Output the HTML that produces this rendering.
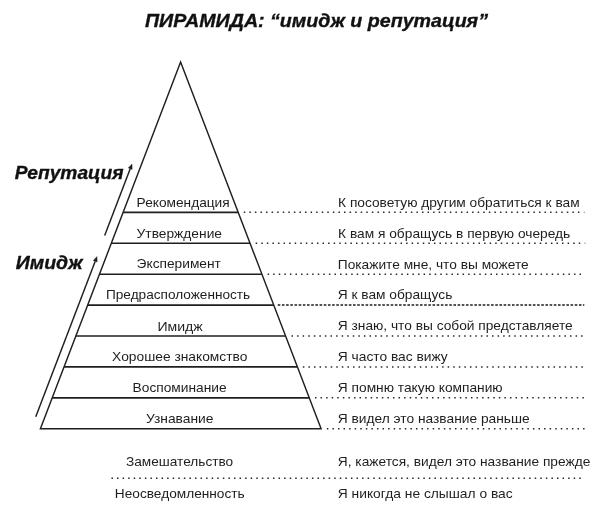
<!DOCTYPE html>
<html><head><meta charset="utf-8"><style>
html,body{margin:0;padding:0;background:#fff;width:600px;height:514px;overflow:hidden}
svg{display:block;filter:grayscale(100%)}
</style></head><body>
<svg width="600" height="514" viewBox="0 0 600 514">
<path d="M40.40,428.75 L180.6,62.0 L321.10,428.75 Z" fill="none" stroke="#221e1e" stroke-width="1.45" stroke-linejoin="miter"/>
<line x1="123.12" y1="212.35" x2="238.20" y2="212.35" stroke="#221e1e" stroke-width="1.6"/>
<line x1="111.31" y1="243.26" x2="250.04" y2="243.26" stroke="#221e1e" stroke-width="1.6"/>
<line x1="99.49" y1="274.18" x2="261.88" y2="274.18" stroke="#221e1e" stroke-width="1.6"/>
<line x1="87.67" y1="305.09" x2="273.73" y2="305.09" stroke="#221e1e" stroke-width="1.6"/>
<line x1="75.85" y1="336.01" x2="285.57" y2="336.01" stroke="#221e1e" stroke-width="1.6"/>
<line x1="64.04" y1="366.92" x2="297.41" y2="366.92" stroke="#221e1e" stroke-width="1.6"/>
<line x1="52.22" y1="397.84" x2="309.26" y2="397.84" stroke="#221e1e" stroke-width="1.6"/>
<path d="M577.95,212.35h1.5M572.38,212.35h1.5M566.81,212.35h1.5M561.24,212.35h1.5M555.67,212.35h1.5M550.10,212.35h1.5M544.53,212.35h1.5M538.96,212.35h1.5M533.39,212.35h1.5M527.82,212.35h1.5M522.25,212.35h1.5M516.68,212.35h1.5M511.11,212.35h1.5M505.54,212.35h1.5M499.97,212.35h1.5M494.40,212.35h1.5M488.83,212.35h1.5M483.26,212.35h1.5M477.69,212.35h1.5M472.12,212.35h1.5M466.55,212.35h1.5M460.98,212.35h1.5M455.41,212.35h1.5M449.84,212.35h1.5M444.27,212.35h1.5M438.70,212.35h1.5M433.13,212.35h1.5M427.56,212.35h1.5M421.99,212.35h1.5M416.42,212.35h1.5M410.85,212.35h1.5M405.28,212.35h1.5M399.71,212.35h1.5M394.14,212.35h1.5M388.57,212.35h1.5M383.00,212.35h1.5M377.43,212.35h1.5M371.86,212.35h1.5M366.29,212.35h1.5M360.72,212.35h1.5M355.15,212.35h1.5M349.58,212.35h1.5M344.01,212.35h1.5M338.44,212.35h1.5M332.87,212.35h1.5M327.30,212.35h1.5M321.73,212.35h1.5M316.16,212.35h1.5M310.59,212.35h1.5M305.02,212.35h1.5M299.45,212.35h1.5M293.88,212.35h1.5M288.31,212.35h1.5M282.74,212.35h1.5M277.17,212.35h1.5M271.60,212.35h1.5M266.03,212.35h1.5M260.46,212.35h1.5M254.89,212.35h1.5M249.32,212.35h1.5M243.75,212.35h1.5" stroke="#2a2a2a" stroke-width="1.5" fill="none"/>
<path d="M583.55,212.35h1.5" stroke="#2a2a2a" stroke-width="1.5" opacity="0.35" fill="none"/>
<path d="M578.75,243.26h1.5M573.18,243.26h1.5M567.61,243.26h1.5M562.04,243.26h1.5M556.47,243.26h1.5M550.90,243.26h1.5M545.33,243.26h1.5M539.76,243.26h1.5M534.19,243.26h1.5M528.62,243.26h1.5M523.05,243.26h1.5M517.48,243.26h1.5M511.91,243.26h1.5M506.34,243.26h1.5M500.77,243.26h1.5M495.20,243.26h1.5M489.63,243.26h1.5M484.06,243.26h1.5M478.49,243.26h1.5M472.92,243.26h1.5M467.35,243.26h1.5M461.78,243.26h1.5M456.21,243.26h1.5M450.64,243.26h1.5M445.07,243.26h1.5M439.50,243.26h1.5M433.93,243.26h1.5M428.36,243.26h1.5M422.79,243.26h1.5M417.22,243.26h1.5M411.65,243.26h1.5M406.08,243.26h1.5M400.51,243.26h1.5M394.94,243.26h1.5M389.37,243.26h1.5M383.80,243.26h1.5M378.23,243.26h1.5M372.66,243.26h1.5M367.09,243.26h1.5M361.52,243.26h1.5M355.95,243.26h1.5M350.38,243.26h1.5M344.81,243.26h1.5M339.24,243.26h1.5M333.67,243.26h1.5M328.10,243.26h1.5M322.53,243.26h1.5M316.96,243.26h1.5M311.39,243.26h1.5M305.82,243.26h1.5M300.25,243.26h1.5M294.68,243.26h1.5M289.11,243.26h1.5M283.54,243.26h1.5M277.97,243.26h1.5M272.40,243.26h1.5M266.83,243.26h1.5M261.26,243.26h1.5M255.69,243.26h1.5" stroke="#2a2a2a" stroke-width="1.5" fill="none"/>
<path d="M584.35,243.26h1.5" stroke="#2a2a2a" stroke-width="1.5" opacity="0.35" fill="none"/>
<path d="M579.55,274.18h1.5M573.98,274.18h1.5M568.41,274.18h1.5M562.84,274.18h1.5M557.27,274.18h1.5M551.70,274.18h1.5M546.13,274.18h1.5M540.56,274.18h1.5M534.99,274.18h1.5M529.42,274.18h1.5M523.85,274.18h1.5M518.28,274.18h1.5M512.71,274.18h1.5M507.14,274.18h1.5M501.57,274.18h1.5M496.00,274.18h1.5M490.43,274.18h1.5M484.86,274.18h1.5M479.29,274.18h1.5M473.72,274.18h1.5M468.15,274.18h1.5M462.58,274.18h1.5M457.01,274.18h1.5M451.44,274.18h1.5M445.87,274.18h1.5M440.30,274.18h1.5M434.73,274.18h1.5M429.16,274.18h1.5M423.59,274.18h1.5M418.02,274.18h1.5M412.45,274.18h1.5M406.88,274.18h1.5M401.31,274.18h1.5M395.74,274.18h1.5M390.17,274.18h1.5M384.60,274.18h1.5M379.03,274.18h1.5M373.46,274.18h1.5M367.89,274.18h1.5M362.32,274.18h1.5M356.75,274.18h1.5M351.18,274.18h1.5M345.61,274.18h1.5M340.04,274.18h1.5M334.47,274.18h1.5M328.90,274.18h1.5M323.33,274.18h1.5M317.76,274.18h1.5M312.19,274.18h1.5M306.62,274.18h1.5M301.05,274.18h1.5M295.48,274.18h1.5M289.91,274.18h1.5M284.34,274.18h1.5M278.77,274.18h1.5M273.20,274.18h1.5M267.63,274.18h1.5" stroke="#2a2a2a" stroke-width="1.5" fill="none"/>
<path d="M578.90,305.09h2.6M574.72,305.09h2.6M570.53,305.09h2.6M566.35,305.09h2.6M562.17,305.09h2.6M557.99,305.09h2.6M553.80,305.09h2.6M549.62,305.09h2.6M545.44,305.09h2.6M541.25,305.09h2.6M537.07,305.09h2.6M532.89,305.09h2.6M528.70,305.09h2.6M524.52,305.09h2.6M520.34,305.09h2.6M516.16,305.09h2.6M511.97,305.09h2.6M507.79,305.09h2.6M503.61,305.09h2.6M499.42,305.09h2.6M495.24,305.09h2.6M491.06,305.09h2.6M486.87,305.09h2.6M482.69,305.09h2.6M478.51,305.09h2.6M474.33,305.09h2.6M470.14,305.09h2.6M465.96,305.09h2.6M461.78,305.09h2.6M457.59,305.09h2.6M453.41,305.09h2.6M449.23,305.09h2.6M445.04,305.09h2.6M440.86,305.09h2.6M436.68,305.09h2.6M432.50,305.09h2.6M428.31,305.09h2.6M424.13,305.09h2.6M419.95,305.09h2.6M415.76,305.09h2.6M411.58,305.09h2.6M407.40,305.09h2.6M403.21,305.09h2.6M399.03,305.09h2.6M394.85,305.09h2.6M390.67,305.09h2.6M386.48,305.09h2.6M382.30,305.09h2.6M378.12,305.09h2.6M373.93,305.09h2.6M369.75,305.09h2.6M365.57,305.09h2.6M361.38,305.09h2.6M357.20,305.09h2.6M353.02,305.09h2.6M348.84,305.09h2.6M344.65,305.09h2.6M340.47,305.09h2.6M336.29,305.09h2.6M332.10,305.09h2.6M327.92,305.09h2.6M323.74,305.09h2.6M319.55,305.09h2.6M315.37,305.09h2.6M311.19,305.09h2.6M307.01,305.09h2.6M302.82,305.09h2.6M298.64,305.09h2.6M294.46,305.09h2.6M290.27,305.09h2.6M286.09,305.09h2.6M281.91,305.09h2.6M277.72,305.09h2.6M582.90,305.09h1.4" stroke="#1e1e1e" stroke-width="1.5" fill="none"/>
<path d="M581.15,336.01h1.5M575.58,336.01h1.5M570.01,336.01h1.5M564.44,336.01h1.5M558.87,336.01h1.5M553.30,336.01h1.5M547.73,336.01h1.5M542.16,336.01h1.5M536.59,336.01h1.5M531.02,336.01h1.5M525.45,336.01h1.5M519.88,336.01h1.5M514.31,336.01h1.5M508.74,336.01h1.5M503.17,336.01h1.5M497.60,336.01h1.5M492.03,336.01h1.5M486.46,336.01h1.5M480.89,336.01h1.5M475.32,336.01h1.5M469.75,336.01h1.5M464.18,336.01h1.5M458.61,336.01h1.5M453.04,336.01h1.5M447.47,336.01h1.5M441.90,336.01h1.5M436.33,336.01h1.5M430.76,336.01h1.5M425.19,336.01h1.5M419.62,336.01h1.5M414.05,336.01h1.5M408.48,336.01h1.5M402.91,336.01h1.5M397.34,336.01h1.5M391.77,336.01h1.5M386.20,336.01h1.5M380.63,336.01h1.5M375.06,336.01h1.5M369.49,336.01h1.5M363.92,336.01h1.5M358.35,336.01h1.5M352.78,336.01h1.5M347.21,336.01h1.5M341.64,336.01h1.5M336.07,336.01h1.5M330.50,336.01h1.5M324.93,336.01h1.5M319.36,336.01h1.5M313.79,336.01h1.5M308.22,336.01h1.5M302.65,336.01h1.5M297.08,336.01h1.5M291.51,336.01h1.5" stroke="#2a2a2a" stroke-width="1.5" fill="none"/>
<path d="M581.35,366.92h1.5M575.78,366.92h1.5M570.21,366.92h1.5M564.64,366.92h1.5M559.07,366.92h1.5M553.50,366.92h1.5M547.93,366.92h1.5M542.36,366.92h1.5M536.79,366.92h1.5M531.22,366.92h1.5M525.65,366.92h1.5M520.08,366.92h1.5M514.51,366.92h1.5M508.94,366.92h1.5M503.37,366.92h1.5M497.80,366.92h1.5M492.23,366.92h1.5M486.66,366.92h1.5M481.09,366.92h1.5M475.52,366.92h1.5M469.95,366.92h1.5M464.38,366.92h1.5M458.81,366.92h1.5M453.24,366.92h1.5M447.67,366.92h1.5M442.10,366.92h1.5M436.53,366.92h1.5M430.96,366.92h1.5M425.39,366.92h1.5M419.82,366.92h1.5M414.25,366.92h1.5M408.68,366.92h1.5M403.11,366.92h1.5M397.54,366.92h1.5M391.97,366.92h1.5M386.40,366.92h1.5M380.83,366.92h1.5M375.26,366.92h1.5M369.69,366.92h1.5M364.12,366.92h1.5M358.55,366.92h1.5M352.98,366.92h1.5M347.41,366.92h1.5M341.84,366.92h1.5M336.27,366.92h1.5M330.70,366.92h1.5M325.13,366.92h1.5M319.56,366.92h1.5M313.99,366.92h1.5M308.42,366.92h1.5M302.85,366.92h1.5" stroke="#2a2a2a" stroke-width="1.5" fill="none"/>
<path d="M582.35,397.84h1.5M576.78,397.84h1.5M571.21,397.84h1.5M565.64,397.84h1.5M560.07,397.84h1.5M554.50,397.84h1.5M548.93,397.84h1.5M543.36,397.84h1.5M537.79,397.84h1.5M532.22,397.84h1.5M526.65,397.84h1.5M521.08,397.84h1.5M515.51,397.84h1.5M509.94,397.84h1.5M504.37,397.84h1.5M498.80,397.84h1.5M493.23,397.84h1.5M487.66,397.84h1.5M482.09,397.84h1.5M476.52,397.84h1.5M470.95,397.84h1.5M465.38,397.84h1.5M459.81,397.84h1.5M454.24,397.84h1.5M448.67,397.84h1.5M443.10,397.84h1.5M437.53,397.84h1.5M431.96,397.84h1.5M426.39,397.84h1.5M420.82,397.84h1.5M415.25,397.84h1.5M409.68,397.84h1.5M404.11,397.84h1.5M398.54,397.84h1.5M392.97,397.84h1.5M387.40,397.84h1.5M381.83,397.84h1.5M376.26,397.84h1.5M370.69,397.84h1.5M365.12,397.84h1.5M359.55,397.84h1.5M353.98,397.84h1.5M348.41,397.84h1.5M342.84,397.84h1.5M337.27,397.84h1.5M331.70,397.84h1.5M326.13,397.84h1.5M320.56,397.84h1.5M314.99,397.84h1.5" stroke="#2a2a2a" stroke-width="1.5" fill="none"/>
<path d="M583.05,428.75h1.5M577.48,428.75h1.5M571.91,428.75h1.5M566.34,428.75h1.5M560.77,428.75h1.5M555.20,428.75h1.5M549.63,428.75h1.5M544.06,428.75h1.5M538.49,428.75h1.5M532.92,428.75h1.5M527.35,428.75h1.5M521.78,428.75h1.5M516.21,428.75h1.5M510.64,428.75h1.5M505.07,428.75h1.5M499.50,428.75h1.5M493.93,428.75h1.5M488.36,428.75h1.5M482.79,428.75h1.5M477.22,428.75h1.5M471.65,428.75h1.5M466.08,428.75h1.5M460.51,428.75h1.5M454.94,428.75h1.5M449.37,428.75h1.5M443.80,428.75h1.5M438.23,428.75h1.5M432.66,428.75h1.5M427.09,428.75h1.5M421.52,428.75h1.5M415.95,428.75h1.5M410.38,428.75h1.5M404.81,428.75h1.5M399.24,428.75h1.5M393.67,428.75h1.5M388.10,428.75h1.5M382.53,428.75h1.5M376.96,428.75h1.5M371.39,428.75h1.5M365.82,428.75h1.5M360.25,428.75h1.5M354.68,428.75h1.5M349.11,428.75h1.5M343.54,428.75h1.5M337.97,428.75h1.5M332.40,428.75h1.5M326.83,428.75h1.5" stroke="#2a2a2a" stroke-width="1.5" fill="none"/>
<path d="M579.25,478.2h1.5M573.68,478.2h1.5M568.11,478.2h1.5M562.54,478.2h1.5M556.97,478.2h1.5M551.41,478.2h1.5M545.84,478.2h1.5M540.27,478.2h1.5M534.70,478.2h1.5M529.13,478.2h1.5M523.56,478.2h1.5M517.99,478.2h1.5M512.42,478.2h1.5M506.85,478.2h1.5M501.28,478.2h1.5M495.72,478.2h1.5M490.15,478.2h1.5M484.58,478.2h1.5M479.01,478.2h1.5M473.44,478.2h1.5M467.87,478.2h1.5M462.30,478.2h1.5M456.73,478.2h1.5M451.16,478.2h1.5M445.59,478.2h1.5M440.03,478.2h1.5M434.46,478.2h1.5M428.89,478.2h1.5M423.32,478.2h1.5M417.75,478.2h1.5M412.18,478.2h1.5M406.61,478.2h1.5M401.04,478.2h1.5M395.47,478.2h1.5M389.90,478.2h1.5M384.34,478.2h1.5M378.77,478.2h1.5M373.20,478.2h1.5M367.63,478.2h1.5M362.06,478.2h1.5M356.49,478.2h1.5M350.92,478.2h1.5M345.35,478.2h1.5M339.78,478.2h1.5M334.21,478.2h1.5M328.64,478.2h1.5M323.08,478.2h1.5M317.51,478.2h1.5M311.94,478.2h1.5M306.37,478.2h1.5M300.80,478.2h1.5M295.23,478.2h1.5M289.66,478.2h1.5M284.09,478.2h1.5M278.52,478.2h1.5M272.95,478.2h1.5M267.39,478.2h1.5M261.82,478.2h1.5M256.25,478.2h1.5M250.68,478.2h1.5M245.11,478.2h1.5M239.54,478.2h1.5M233.97,478.2h1.5M228.40,478.2h1.5M222.83,478.2h1.5M217.26,478.2h1.5M211.70,478.2h1.5M206.13,478.2h1.5M200.56,478.2h1.5M194.99,478.2h1.5M189.42,478.2h1.5M183.85,478.2h1.5M178.28,478.2h1.5M172.71,478.2h1.5M167.14,478.2h1.5M161.57,478.2h1.5M156.01,478.2h1.5M150.44,478.2h1.5M144.87,478.2h1.5M139.30,478.2h1.5M133.73,478.2h1.5M128.16,478.2h1.5M122.59,478.2h1.5M117.02,478.2h1.5M111.45,478.2h1.5" stroke="#2a2a2a" stroke-width="1.5" fill="none"/>
<line x1="104.67" y1="235.5" x2="130.21" y2="168.67" stroke="#221e1e" stroke-width="1.45"/><path d="M132.00,164.00 L132.18,169.42 L128.25,167.92 Z" fill="#221e1e" stroke="#221e1e" stroke-width="0.4"/>
<line x1="35.76" y1="416.8" x2="95.21" y2="261.27" stroke="#221e1e" stroke-width="1.45"/><path d="M97.00,256.60 L97.18,262.02 L93.25,260.52 Z" fill="#221e1e" stroke="#221e1e" stroke-width="0.4"/>
<text x="145.00" y="27.2" font-family="Liberation Sans, sans-serif" font-size="19.0" textLength="343.00" lengthAdjust="spacingAndGlyphs" fill="#111" font-weight="bold" font-style="italic" stroke="#111" stroke-width="0.35">ПИРАМИДА: “имидж и репутация”</text>
<text x="14.70" y="178.8" font-family="Liberation Sans, sans-serif" font-size="18.8" textLength="108.80" lengthAdjust="spacingAndGlyphs" fill="#111" font-weight="bold" font-style="italic" stroke="#111" stroke-width="0.35">Репутация</text>
<text x="15.80" y="269.2" font-family="Liberation Sans, sans-serif" font-size="18.8" textLength="66.70" lengthAdjust="spacingAndGlyphs" fill="#111" font-weight="bold" font-style="italic" stroke="#111" stroke-width="0.35">Имидж</text>
<text x="136.60" y="206.6" font-family="Liberation Sans, sans-serif" font-size="13.6" textLength="93.10" lengthAdjust="spacingAndGlyphs" fill="#1e1e1e" >Рекомендация</text>
<text x="136.60" y="237.6" font-family="Liberation Sans, sans-serif" font-size="13.6" textLength="85.40" lengthAdjust="spacingAndGlyphs" fill="#1e1e1e" >Утверждение</text>
<text x="136.60" y="268.2" font-family="Liberation Sans, sans-serif" font-size="13.6" textLength="84.30" lengthAdjust="spacingAndGlyphs" fill="#1e1e1e" >Эксперимент</text>
<text x="106.00" y="298.7" font-family="Liberation Sans, sans-serif" font-size="13.6" textLength="144.20" lengthAdjust="spacingAndGlyphs" fill="#1e1e1e" >Предрасположенность</text>
<text x="157.40" y="330.6" font-family="Liberation Sans, sans-serif" font-size="13.6" textLength="45.30" lengthAdjust="spacingAndGlyphs" fill="#1e1e1e" >Имидж</text>
<text x="112.10" y="360.8" font-family="Liberation Sans, sans-serif" font-size="13.6" textLength="135.30" lengthAdjust="spacingAndGlyphs" fill="#1e1e1e" >Хорошее знакомство</text>
<text x="132.60" y="391.9" font-family="Liberation Sans, sans-serif" font-size="13.6" textLength="94.00" lengthAdjust="spacingAndGlyphs" fill="#1e1e1e" >Воспоминание</text>
<text x="146.00" y="422.5" font-family="Liberation Sans, sans-serif" font-size="13.6" textLength="67.50" lengthAdjust="spacingAndGlyphs" fill="#1e1e1e" >Узнавание</text>
<text x="126.00" y="466.0" font-family="Liberation Sans, sans-serif" font-size="13.6" textLength="107.20" lengthAdjust="spacingAndGlyphs" fill="#1e1e1e" >Замешательство</text>
<text x="114.80" y="497.6" font-family="Liberation Sans, sans-serif" font-size="13.6" textLength="129.90" lengthAdjust="spacingAndGlyphs" fill="#1e1e1e" >Неосведомленность</text>
<text x="338.10" y="206.8" font-family="Liberation Sans, sans-serif" font-size="13.6" textLength="241.50" lengthAdjust="spacingAndGlyphs" fill="#1e1e1e" >К посоветую другим обратиться к вам</text>
<text x="338.10" y="237.5" font-family="Liberation Sans, sans-serif" font-size="13.6" textLength="232.10" lengthAdjust="spacingAndGlyphs" fill="#1e1e1e" >К вам я обращусь в первую очередь</text>
<text x="337.80" y="268.6" font-family="Liberation Sans, sans-serif" font-size="13.6" textLength="190.90" lengthAdjust="spacingAndGlyphs" fill="#1e1e1e" >Покажите мне, что вы можете</text>
<text x="337.80" y="299.2" font-family="Liberation Sans, sans-serif" font-size="13.6" textLength="114.50" lengthAdjust="spacingAndGlyphs" fill="#1e1e1e" >Я к вам обращусь</text>
<text x="337.80" y="330.3" font-family="Liberation Sans, sans-serif" font-size="13.6" textLength="234.90" lengthAdjust="spacingAndGlyphs" fill="#1e1e1e" >Я знаю, что вы собой представляете</text>
<text x="337.80" y="361.2" font-family="Liberation Sans, sans-serif" font-size="13.6" textLength="109.90" lengthAdjust="spacingAndGlyphs" fill="#1e1e1e" >Я часто вас вижу</text>
<text x="337.80" y="392" font-family="Liberation Sans, sans-serif" font-size="13.6" textLength="164.90" lengthAdjust="spacingAndGlyphs" fill="#1e1e1e" >Я помню такую компанию</text>
<text x="337.80" y="422.6" font-family="Liberation Sans, sans-serif" font-size="13.6" textLength="191.90" lengthAdjust="spacingAndGlyphs" fill="#1e1e1e" >Я видел это название раньше</text>
<text x="337.80" y="466" font-family="Liberation Sans, sans-serif" font-size="13.6" textLength="252.50" lengthAdjust="spacingAndGlyphs" fill="#1e1e1e" >Я, кажется, видел это название прежде</text>
<text x="337.80" y="497.5" font-family="Liberation Sans, sans-serif" font-size="13.6" textLength="174.90" lengthAdjust="spacingAndGlyphs" fill="#1e1e1e" >Я никогда не слышал о вас</text>
</svg>
</body></html>
